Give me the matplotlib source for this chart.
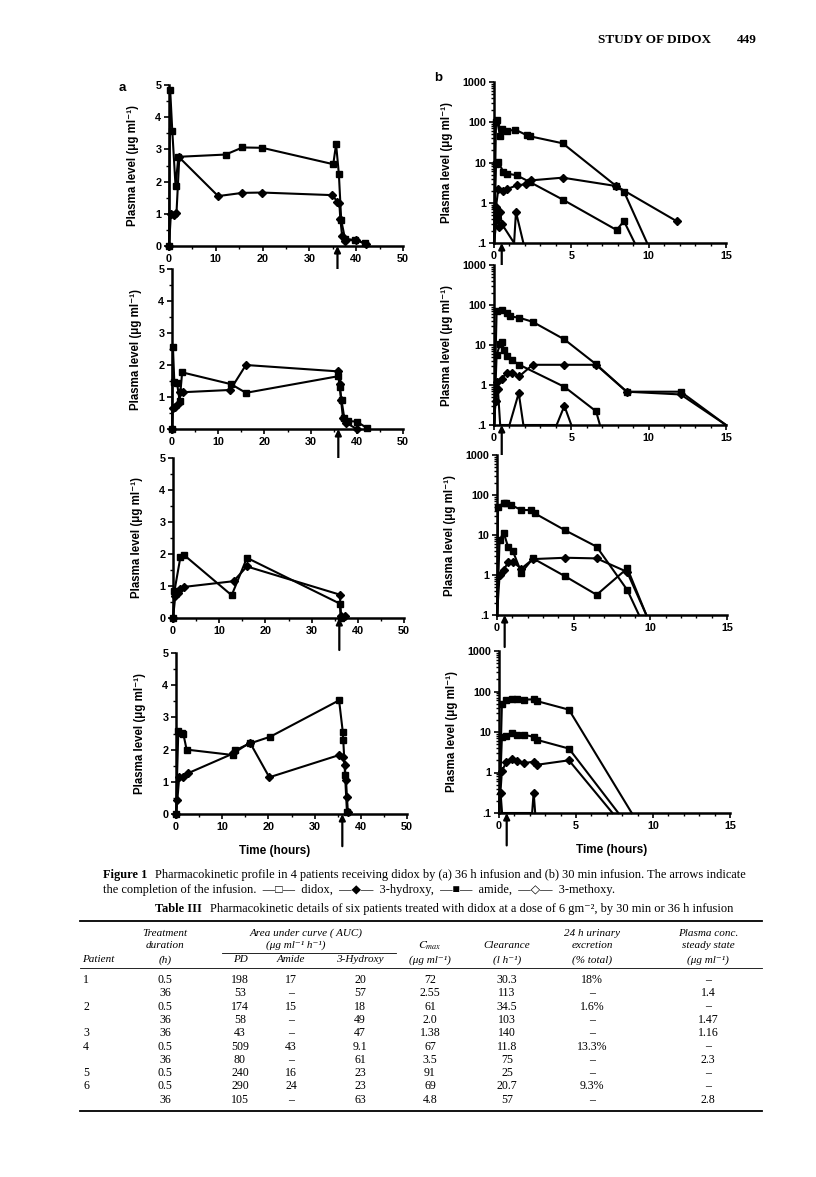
import matplotlib
matplotlib.use("Agg")
import matplotlib.pyplot as plt
from matplotlib.lines import Line2D
from matplotlib.ticker import MultipleLocator, LogLocator, FixedLocator, NullFormatter

W, H = 816, 1177

# ---- panel a: 36 h infusion (didox squares, 3-hydroxy diamonds) ----
a1_sq_t = [0, 0.25, 0.7, 1.4, 2.0, 12.1, 15.7, 19.9, 35.1, 35.7, 36.3, 36.8, 37.6, 39.8, 41.9]
a1_sq_y = [0, 4.85, 3.58, 1.86, 2.77, 2.84, 3.06, 3.05, 2.54, 3.16, 2.23, 0.8, 0.23, 0.18, 0.09]
a1_di_t = [0, 0.4, 1.0, 1.6, 2.2, 10.5, 15.7, 19.9, 34.9, 36.0, 36.4, 36.6, 37.0, 37.5, 40.0, 42.0]
a1_di_y = [0, 0.98, 0.95, 1.03, 2.75, 1.55, 1.65, 1.66, 1.58, 1.37, 1.34, 0.85, 0.3, 0.15, 0.2, 0.05]

a2_sq_t = [0, 0.2, 0.5, 1.1, 1.65, 2.2, 12.8, 16.0, 36.0, 36.3, 36.7, 37.3, 38.0, 40.0, 42.1]
a2_sq_y = [0, 2.57, 1.48, 1.43, 0.88, 1.77, 1.40, 1.13, 1.65, 1.3, 0.9, 0.33, 0.25, 0.23, 0.04]
a2_di_t = [0, 0.2, 0.7, 1.2, 1.8, 2.4, 12.6, 16.0, 36.0, 36.3, 36.6, 37.0, 37.6, 40.0]
a2_di_y = [0, 0.65, 0.7, 0.77, 1.17, 1.15, 1.22, 2.0, 1.8, 1.4, 0.9, 0.35, 0.2, 0.0]

a3_sq_t = [0, 0.3, 1.6, 2.3, 12.7, 16.0, 36.1, 36.3]
a3_sq_y = [0, 0.83, 1.9, 1.98, 0.71, 1.88, 0.45, 0.0]
a3_di_t = [0, 0.5, 1.0, 1.6, 2.3, 13.1, 16.0, 36.1, 36.4, 37.2]
a3_di_y = [0, 0.68, 0.78, 0.9, 0.97, 1.15, 1.61, 0.73, 0.05, 0.05]

a4_sq_t = [0, 0.5, 1.2, 1.6, 2.3, 12.4, 12.8, 16.0, 20.4, 35.3, 36.1, 36.2, 36.6, 37.0]
a4_sq_y = [0, 2.58, 2.52, 2.48, 2.0, 1.83, 1.98, 2.19, 2.40, 3.53, 2.55, 2.31, 1.2, 0.07]
a4_di_t = [0, 0.3, 0.7, 1.45, 2.5, 12.4, 16.0, 20.2, 35.3, 36.2, 36.5, 36.8, 37.0, 37.2]
a4_di_y = [0, 0.45, 1.16, 1.16, 1.26, 1.88, 2.22, 1.14, 1.83, 1.76, 1.52, 1.05, 0.54, 0.07]

# ---- panel b: 30 min infusion, log scale ----
b1_didox_t = [0, 0.13, 0.2, 0.39, 0.5, 0.86, 1.36, 2.15, 2.3, 4.44, 7.9, 8.4, 9.9]
b1_didox_y = [0.1, 101, 113, 45, 69, 60, 66, 47, 45, 30, 2.6, 1.9, 0.1]
b1_amide_t = [0, 0.13, 0.28, 0.6, 0.86, 1.47, 2.3, 4.44, 7.93, 8.4, 9.1]
b1_amide_y = [0.1, 9.4, 10.5, 5.8, 5.3, 4.8, 3.3, 1.2, 0.21, 0.35, 0.1]
b1_hydroxy_t = [0, 0.13, 0.28, 0.6, 0.86, 1.47, 2.1, 2.4, 4.44, 7.9, 11.8]
b1_hydroxy_y = [0.1, 0.8, 2.2, 2.0, 2.2, 2.7, 2.9, 3.6, 4.2, 2.6, 0.35]
b1_methoxy_t = [0, 0.2, 0.3, 0.4, 0.5, 1.3, 1.42, 1.9]
b1_methoxy_y = [0.1, 0.5, 0.25, 0.6, 0.3, 0.1, 0.59, 0.1]

b2_didox_t = [0, 0.17, 0.5, 0.82, 1.03, 1.64, 2.5, 4.55, 6.6, 8.58, 12.07, 15]
b2_didox_y = [0.1, 71, 74, 63, 52, 48, 38, 13.8, 3.3, 0.68, 0.68, 0.1]
b2_amide_t = [0, 0.17, 0.39, 0.5, 0.65, 0.86, 1.14, 1.64, 4.55, 6.6, 6.85]
b2_amide_y = [0.1, 5.6, 10.5, 12, 7.5, 5.4, 4.2, 3.2, 0.9, 0.22, 0.1]
b2_hydroxy_t = [0, 0.17, 0.5, 0.82, 1.14, 1.64, 2.5, 4.55, 6.6, 8.58, 12.07, 15]
b2_hydroxy_y = [0.1, 1.2, 1.45, 2.0, 2.0, 1.66, 3.2, 3.2, 3.2, 0.68, 0.58, 0.1]
b2_methoxy_t = [0, 0.1, 0.25, 0.4, 1.0, 1.6, 1.9, 4.05, 4.55, 5.0]
b2_methoxy_y = [0.1, 0.4, 0.8, 0.1, 0.1, 0.63, 0.1, 0.1, 0.3, 0.1]

b3_didox_t = [0, 0.07, 0.43, 0.6, 0.93, 1.59, 2.24, 2.45, 4.46, 6.5, 8.5, 9.26]
b3_didox_y = [0.1, 50, 64, 62, 56, 42, 42, 35, 13, 5.1, 0.42, 0.1]
b3_amide_t = [0, 0.17, 0.43, 0.72, 1.04, 1.59, 2.35, 4.46, 6.5, 8.5, 9.74]
b3_amide_y = [0.1, 7.5, 11.5, 5.1, 3.9, 1.15, 2.6, 0.92, 0.32, 1.47, 0.1]
b3_hydroxy_t = [0, 0.17, 0.43, 0.72, 1.04, 1.59, 2.35, 4.46, 6.5, 8.48, 9.74]
b3_hydroxy_y = [0.1, 1.0, 1.3, 2.1, 2.1, 1.45, 2.5, 2.7, 2.6, 1.2, 0.1]

b4_didox_t = [0, 0.19, 0.48, 0.84, 1.17, 1.6, 2.25, 2.46, 4.54, 8.62]
b4_didox_y = [0.1, 48, 60, 66, 66, 63, 64, 58, 35.6, 0.1]
b4_amide_t = [0, 0.19, 0.48, 0.84, 1.17, 1.6, 2.25, 2.46, 4.54, 7.75]
b4_amide_y = [0.1, 7.5, 8.0, 9.2, 8.6, 8.6, 7.6, 6.4, 3.9, 0.1]
b4_hydroxy_t = [0, 0.19, 0.48, 0.84, 1.17, 1.6, 2.25, 2.46, 4.54, 7.37]
b4_hydroxy_y = [0.1, 1.1, 1.8, 2.1, 1.9, 1.7, 1.85, 1.55, 2.0, 0.1]
b4_methoxy_t = [0, 0.1, 0.2, 2.15, 2.25, 2.35]
b4_methoxy_y = [0.1, 0.32, 0.1, 0.1, 0.32, 0.1]

log_ticks = [0.1, 1, 10, 100, 1000]
log_labels = [".1", "1", "10", "100", "1000"]

# ---- Table III ----
col_heads = ["Patient", "Treatment\nduration\n(h)", "PD", "Amide", "3-Hydroxy",
             "$C_{max}$", "Clearance", "24 h urinary\nexcretion\n(% total)",
             "Plasma conc.\nsteady state\n(\u03bcg ml\u207b\u00b9)"]
patients = ["1", "", "2", "", "3", "4", "", "5", "6", ""]
duration = ["0.5", "36", "0.5", "36", "36", "0.5", "36", "0.5", "0.5", "36"]
auc_pd = ["198", "53", "174", "58", "43", "509", "80", "240", "290", "105"]
auc_amide = ["17", "\u2013", "15", "\u2013", "\u2013", "43", "\u2013", "16", "24", "\u2013"]
auc_hydroxy = ["20", "57", "18", "49", "47", "9.1", "61", "23", "23", "63"]
cmax = ["72", "2.55", "61", "2.0", "1.38", "67", "3.5", "91", "69", "4.8"]
clearance = ["30.3", "113", "34.5", "103", "140", "11.8", "75", "25", "20.7", "57"]
urinary = ["18%", "\u2013", "1.6%", "\u2013", "\u2013", "13.3%", "\u2013", "\u2013", "9.3%", "\u2013"]
steady = ["\u2013", "1.4", "\u2013", "1.47", "1.16", "\u2013", "2.3", "\u2013", "\u2013", "2.8"]

plt.rcParams["mathtext.fontset"] = "stix"
SANS = ["Liberation Sans", "DejaVu Sans"]
SERIF = ["Liberation Serif", "DejaVu Sans"]


def fx(x):
    return x / W


def fy(y):
    return 1 - y / H


def make_axes(left, top, right, bottom):
    return fig.add_axes([fx(left), fy(bottom), fx(right - left), (bottom - top) / H])


def style_axes(ax, logscale):
    for s in ["top", "right"]:
        ax.spines[s].set_visible(False)
    for s in ["left", "bottom"]:
        ax.spines[s].set_linewidth(1.8)
    ax.tick_params(which="major", length=3.5, width=1.2, labelsize=7.8, pad=2)
    ax.tick_params(which="minor", length=2, width=1.0)
    for lab in ax.get_xticklabels() + ax.get_yticklabels():
        lab.set_fontweight("bold")
        lab.set_family(SANS)
    ax.set_ylabel("Plasma level (\u03bcg ml\u207b\u00b9)", fontsize=8.3,
                  fontweight="bold", family=SANS, labelpad=7 if logscale else 12)


def plot_series(ax, t, y, marker, ms, base):
    marks = [i for i, v in enumerate(y) if v > base]
    ax.plot(t, y, color="black", lw=1.5, marker=marker, ms=ms, mfc="black",
            mec="black", markevery=marks, clip_on=False, zorder=3)


def add_arrow(ax, x):
    ax.annotate("", xy=(x, 0), xycoords=("data", "axes fraction"),
                xytext=(x, -0.2), textcoords=("data", "axes fraction"),
                arrowprops=dict(arrowstyle="-|>", color="black", lw=1.6,
                                mutation_scale=9, shrinkA=0, shrinkB=0),
                annotation_clip=False)


fig = plt.figure(figsize=(W / 100, H / 100), dpi=100)

# left column (linear)
a_boxes = [(169, 85, 403, 246), (172, 269, 403, 429), (173, 458, 404, 618), (176, 653, 407, 814)]
a_data = [(a1_sq_t, a1_sq_y, a1_di_t, a1_di_y),
          (a2_sq_t, a2_sq_y, a2_di_t, a2_di_y),
          (a3_sq_t, a3_sq_y, a3_di_t, a3_di_y),
          (a4_sq_t, a4_sq_y, a4_di_t, a4_di_y)]
for box, (st, sy, dt, dy) in zip(a_boxes, a_data):
    ax = make_axes(*box)
    ax.set_xlim(0, 50)
    ax.set_ylim(0, 5)
    ax.xaxis.set_major_locator(MultipleLocator(10))
    ax.xaxis.set_minor_locator(MultipleLocator(5))
    ax.yaxis.set_major_locator(MultipleLocator(1))
    ax.yaxis.set_minor_locator(MultipleLocator(0.5))
    plot_series(ax, st, sy, "s", 5, -1)
    plot_series(ax, dt, dy, "D", 4, -1)
    style_axes(ax, False)
    add_arrow(ax, 36)

# right column (log)
b_boxes = [(494, 82, 726, 243), (494, 265, 726, 425), (497, 455, 727, 615), (499, 651, 730, 813)]
b_data = [
    [(b1_didox_t, b1_didox_y, "s", 5), (b1_amide_t, b1_amide_y, "s", 5),
     (b1_hydroxy_t, b1_hydroxy_y, "D", 4), (b1_methoxy_t, b1_methoxy_y, "D", 4)],
    [(b2_didox_t, b2_didox_y, "s", 5), (b2_amide_t, b2_amide_y, "s", 5),
     (b2_hydroxy_t, b2_hydroxy_y, "D", 4), (b2_methoxy_t, b2_methoxy_y, "D", 4)],
    [(b3_didox_t, b3_didox_y, "s", 5), (b3_amide_t, b3_amide_y, "s", 5),
     (b3_hydroxy_t, b3_hydroxy_y, "D", 4)],
    [(b4_didox_t, b4_didox_y, "s", 5), (b4_amide_t, b4_amide_y, "s", 5),
     (b4_hydroxy_t, b4_hydroxy_y, "D", 4), (b4_methoxy_t, b4_methoxy_y, "D", 4)],
]
for box, series in zip(b_boxes, b_data):
    ax = make_axes(*box)
    ax.set_yscale("log")
    ax.set_xlim(0, 15)
    ax.set_ylim(0.1, 1000)
    ax.xaxis.set_major_locator(MultipleLocator(5))
    ax.xaxis.set_minor_locator(MultipleLocator(1))
    ax.yaxis.set_major_locator(FixedLocator(log_ticks))
    ax.set_yticklabels(log_labels)
    ax.yaxis.set_minor_locator(LogLocator(base=10, subs=range(2, 10)))
    ax.yaxis.set_minor_formatter(NullFormatter())
    for t, y, m, ms in series:
        plot_series(ax, t, y, m, ms, 0.1)
    style_axes(ax, True)
    add_arrow(ax, 0.5)

fig.text(fx(119), fy(88), "a", fontsize=9.5, fontweight="bold", family=SANS, va="center")
fig.text(fx(434), fy(78), "b", fontsize=9.5, fontweight="bold", family=SANS, va="center")
fig.text(fx(275), fy(851), "Time (hours)", fontsize=8.5, fontweight="bold", family=SANS,
         ha="center", va="center")
fig.text(fx(612), fy(850), "Time (hours)", fontsize=8.5, fontweight="bold", family=SANS,
         ha="center", va="center")

# running head
fig.text(fx(598), fy(40), "STUDY OF DIDOX", fontsize=9.5, fontweight="bold", family=SERIF, va="center")
fig.text(fx(737), fy(40), "449", fontsize=9.5, fontweight="bold", family=SERIF, va="center")

fig.canvas.draw()
rend = fig.canvas.get_renderer()


def bold_lead(x, y, lead, rest, size):
    t = fig.text(fx(x), fy(y), lead, fontsize=size, fontweight="bold", family=SERIF, va="center")
    wpx = t.get_window_extent(rend).width
    fig.text(fx(x + wpx + 8), fy(y), rest, fontsize=size, family=SERIF, va="center")


bold_lead(103, 875, "Figure 1",
          "Pharmacokinetic profile in 4 patients receiving didox by (a) 36 h infusion and (b) 30 min infusion. The arrows indicate",
          8.9)
fig.text(fx(103), fy(890),
         "the completion of the infusion.  \u2014\u25a1\u2014  didox,  \u2014\u25c6\u2014  3-hydroxy,  "
         "\u2014\u25a0\u2014  amide,  \u2014\u25c7\u2014  3-methoxy.",
         fontsize=8.9, family=SERIF, va="center")
bold_lead(155, 909, "Table III",
          "Pharmacokinetic details of six patients treated with didox at a dose of 6 gm\u207b\u00b2, by 30 min or 36 h infusion",
          8.9)


def hline(y, x0, x1, lw):
    fig.add_artist(Line2D([fx(x0), fx(x1)], [fy(y), fy(y)], color="black", lw=lw))


hline(921, 80, 762, 1.3)
hline(953, 222, 396, 0.6)
hline(968, 80, 762, 0.6)
hline(1111, 80, 762, 1.3)

col_x = [82, 165, 240, 291, 360, 430, 507, 592, 708]
hsize = 8.0
bsize = 8.6
hrows = [933, 945, 960]
# header rows
fig.text(fx(82), fy(hrows[2]), "Patient", fontsize=hsize, style="italic", family=SERIF, va="center")
for i in [1, 7, 8]:
    for j, line in enumerate(col_heads[i].split("\n")):
        fig.text(fx(col_x[i]), fy(hrows[j]), line, fontsize=hsize, style="italic",
                 family=SERIF, ha="center", va="center")
fig.text(fx(306), fy(hrows[0]), "Area under curve ( AUC)", fontsize=hsize, style="italic",
         family=SERIF, ha="center", va="center")
fig.text(fx(296), fy(hrows[1]), "(\u03bcg ml\u207b\u00b9 h\u207b\u00b9)", fontsize=hsize, style="italic",
         family=SERIF, ha="center", va="center")
for i in [2, 3, 4]:
    fig.text(fx(col_x[i]), fy(hrows[2]), col_heads[i], fontsize=hsize, style="italic",
             family=SERIF, ha="center", va="center")
fig.text(fx(col_x[5]), fy(hrows[1] + 1), col_heads[5], fontsize=hsize + 0.5, family=SERIF,
         ha="center", va="center")
fig.text(fx(col_x[5]), fy(hrows[2]), "(\u03bcg ml\u207b\u00b9)", fontsize=hsize, style="italic",
         family=SERIF, ha="center", va="center")
fig.text(fx(col_x[6]), fy(hrows[1] + 1), "Clearance", fontsize=hsize, style="italic",
         family=SERIF, ha="center", va="center")
fig.text(fx(col_x[6]), fy(hrows[2]), "(l h\u207b\u00b9)", fontsize=hsize, style="italic",
         family=SERIF, ha="center", va="center")

# body rows
columns = [duration, auc_pd, auc_amide, auc_hydroxy, cmax, clearance, urinary, steady]
for r in range(len(duration)):
    y = 980 + 13.3 * r
    fig.text(fx(83), fy(y), patients[r], fontsize=bsize, family=SERIF, va="center")
    for c, vals in enumerate(columns):
        fig.text(fx(col_x[c + 1]), fy(y), vals[r], fontsize=bsize, family=SERIF,
                 ha="center", va="center")

fig.savefig("out.png", dpi=100)
